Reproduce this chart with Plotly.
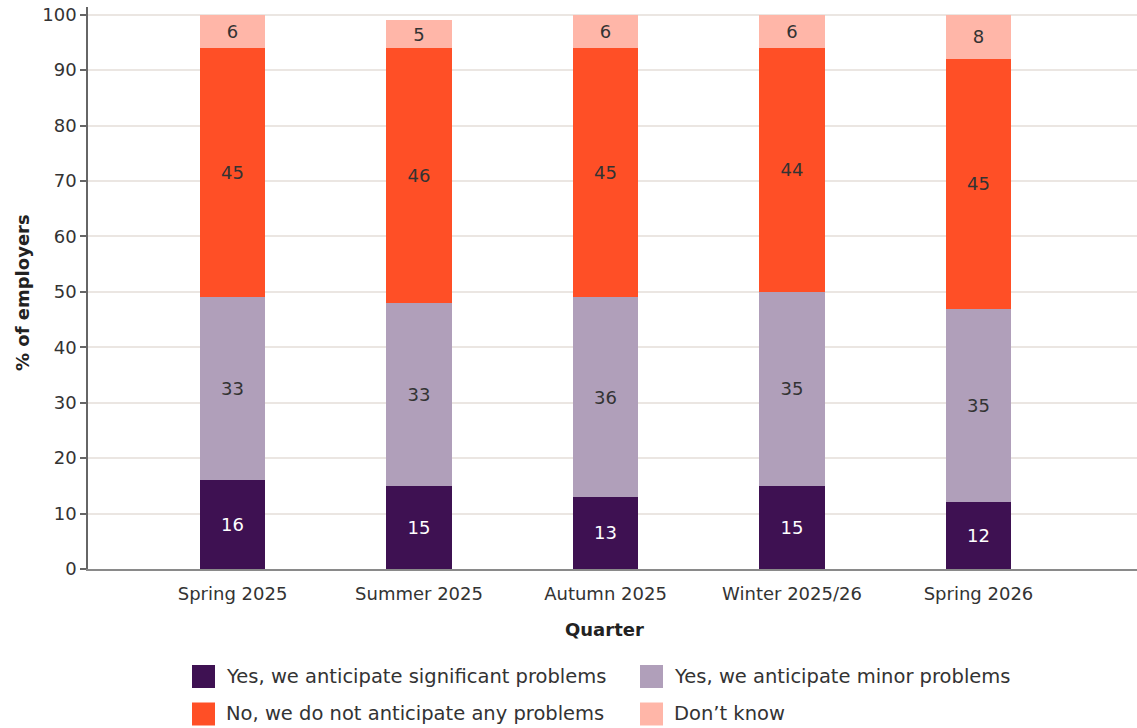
import plotly.graph_objects as go

# Survey results by quarter (% of employers)
quarters = ["Spring 2025", "Summer 2025", "Autumn 2025", "Winter 2025/26", "Spring 2026"]
significant = [16, 15, 13, 15, 12]
minor = [33, 33, 36, 35, 35]
no_problems = [45, 46, 45, 44, 45]
dont_know = [6, 5, 6, 6, 8]

series_names = [
    "Yes, we anticipate significant problems",
    "Yes, we anticipate minor problems",
    "No, we do not anticipate any problems",
    "Don\u2019t know",
]
series_values = [significant, minor, no_problems, dont_know]
series_colors = ["#3E1152", "#B09FBA", "#FF4F26", "#FFB6A8"]
label_colors = ["#FFFFFF", "#333333", "#333333", "#333333"]

FONT = "'DejaVu Sans', sans-serif"
FS = 18
LEGEND_FS = 19.5
W, H = 1137, 728
L, R, T, B = 88, 0, 7, 159
plot_w = W - L - R
plot_h = H - T - B

fig = go.Figure()
for name, vals, col, tcol in zip(series_names, series_values, series_colors, label_colors):
    fig.add_trace(go.Bar(
        x=quarters, y=vals, name=name,
        marker=dict(color=col, line=dict(width=0)),
        width=0.35,
        texttemplate="%{y:.0f}", textposition="inside",
        insidetextanchor="middle", textangle=0,
        textfont=dict(family=FONT, size=FS, color=tcol),
        showlegend=False,
    ))


def px_x(px):
    return (px - L) / plot_w


def px_y(py):
    return (H - B - py) / plot_h


# Legend drawn as swatches and labels below the chart
shapes = []
annotations = []
legend_pos = [(192, 676.5), (640, 676.5), (192, 714), (640, 714)]
for (sx, sy), name, col in zip(legend_pos, series_names, series_colors):
    shapes.append(dict(type="rect", xref="paper", yref="paper",
                       x0=px_x(sx), x1=px_x(sx + 23),
                       y0=px_y(sy + 11.5), y1=px_y(sy - 11.5),
                       fillcolor=col, line=dict(width=0)))
    annotations.append(dict(text=name, xref="paper", yref="paper",
                            x=px_x(sx + 32), y=px_y(sy), xanchor="left", yanchor="middle",
                            showarrow=False,
                            font=dict(family=FONT, size=LEGEND_FS, color="#333333")))

annotations.append(dict(text="<b>Quarter</b>", xref="paper", yref="paper",
                        x=px_x(604), y=px_y(629), xanchor="center", yanchor="middle",
                        showarrow=False, font=dict(family=FONT, size=18, color="#222222")))
annotations.append(dict(text="<b>% of employers</b>", xref="paper", yref="paper",
                        x=px_x(22), y=px_y(293), xanchor="center", yanchor="middle",
                        textangle=-90, showarrow=False,
                        font=dict(family=FONT, size=18, color="#222222")))

fig.update_layout(
    width=W, height=H,
    margin=dict(l=L, r=R, t=T, b=B, pad=0),
    barmode="stack",
    plot_bgcolor="white", paper_bgcolor="white",
    font=dict(family=FONT, size=FS, color="#333333"),
    shapes=shapes, annotations=annotations,
    uniformtext=dict(minsize=FS, mode="show"),
)
fig.update_xaxes(
    type="category", range=[-0.775, 4.85],
    showline=True, linecolor="#8A8A8A", linewidth=1.5,
    ticks="", showgrid=False, ticklabelstandoff=8,
    tickfont=dict(family=FONT, size=FS, color="#333333"),
)
fig.update_yaxes(
    range=[0, 101.4], tickvals=list(range(0, 101, 10)),
    showline=True, linecolor="#666666", linewidth=1.5,
    ticks="outside", ticklen=6, tickcolor="#666666", tickwidth=1.5,
    showgrid=True, gridcolor="#EBE6E2", gridwidth=1.5,
    zeroline=False,
    tickfont=dict(family=FONT, size=FS, color="#333333"),
)

fig.write_html("out.html")
